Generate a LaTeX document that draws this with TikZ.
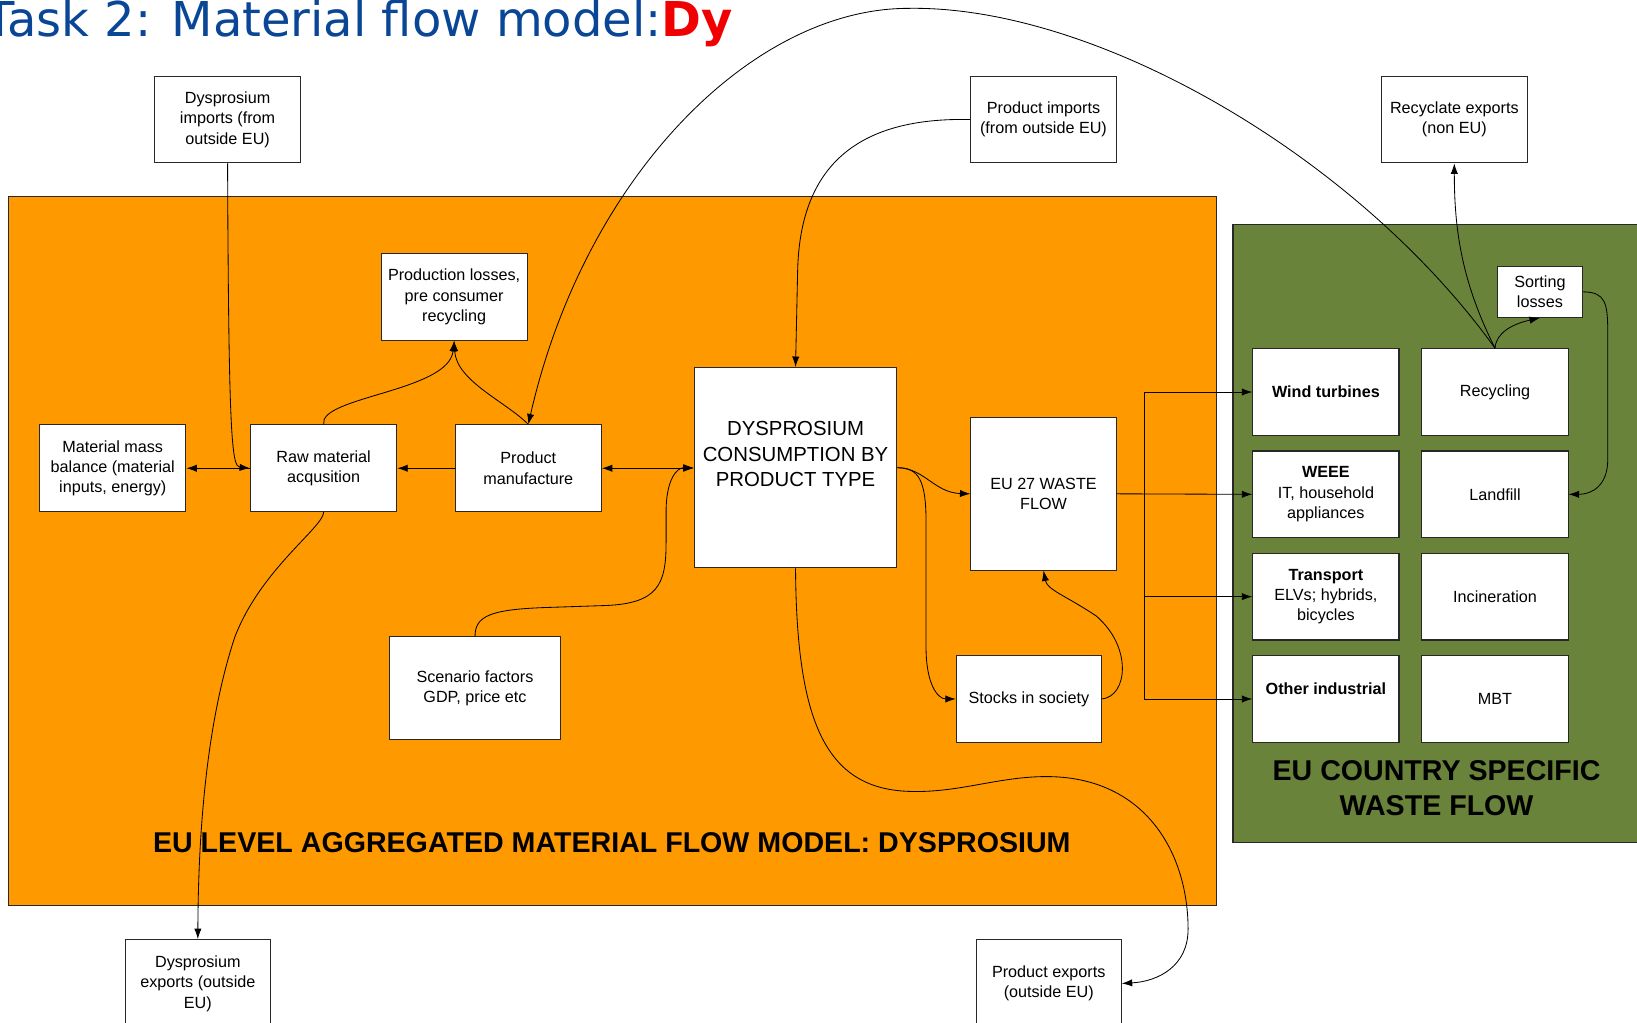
\documentclass[tikz,border=0pt]{standalone}
\usepackage{fontspec}
\setmainfont{Liberation Sans}
\newfontfamily\titlefont{DejaVu Sans}
\usetikzlibrary{arrows.meta}
\definecolor{mforange}{RGB}{255,153,0}
\definecolor{mfgreen}{RGB}{106,131,58}
\definecolor{mfblue}{RGB}{10,70,150}
\definecolor{mfred}{RGB}{240,0,0}
\definecolor{mfedge}{RGB}{40,40,40}
\begin{document}
\begin{tikzpicture}[x=1pt,y=-1pt,
  box/.style={draw=mfedge, fill=white, line width=1pt, align=center, inner sep=0pt,
    minimum width=140pt, minimum height=83pt, font=\fontsize{15.5}{19.5}\selectfont},
  arr/.style={-{Latex[length=10pt,width=7pt]}, line width=0.8pt},
  dblarr/.style={{Latex[length=10pt,width=7pt]}-{Latex[length=10pt,width=7pt]}, line width=0.8pt},
  link/.style={line width=0.8pt},
  region/.style={draw=mfedge, line width=1pt},
  bigtitle/.style={font=\fontsize{27.4}{33}\selectfont\bfseries, align=center, inner sep=0pt}]
\useasboundingbox (0,0) rectangle (1568,979);

% background regions
\draw[region, fill=mforange] (8,188) rectangle (1165,867);
\draw[region, fill=mfgreen] (1181,215) rectangle (1600,807);

% title
\node[anchor=base west, inner sep=0pt, font=\titlefont\fontsize{46}{50}\selectfont, text=mfblue] (title) at (-14,35)
  {Task 2: Material flow model:{\bfseries\color{mfred}Dy}};

% region labels
\node[bigtitle] (eulevel) at (586,807.5) {EU LEVEL AGGREGATED MATERIAL FLOW MODEL: DYSPROSIUM};
\node[bigtitle] (eucountry) at (1376,755) {EU COUNTRY SPECIFIC\\WASTE FLOW};

% boxes
\node[box] (dimp) at (218,114.5) {Dysprosium\\imports (from\\outside EU)};
\node[box, minimum width=139pt] (pimp) at (999.5,114.5) {Product imports\\(from outside EU)};
\node[box] (rexp) at (1393,114.5) {Recyclate exports\\(non EU)};
\node[box] (loss) at (435,284.5) {Production losses,\\pre consumer\\recycling};
\node[box] (mass) at (108,448.5) {Material mass\\balance (material\\inputs, energy)};
\node[box] (raw) at (310,448.5) {Raw material\\acqusition};
\node[box] (manu) at (506,448.5) {Product\\manufacture};
\node[box, minimum width=194pt, minimum height=192pt] (cons) at (762,448) {};
\node[align=center, inner sep=0pt, font=\fontsize{19.5}{24.5}\selectfont] (constext) at (762,435)
  {DYSPROSIUM\\CONSUMPTION BY\\PRODUCT TYPE};
\node[box, minimum width=139pt, minimum height=146pt] (eu27) at (999.5,473) {EU 27 WASTE\\FLOW};
\node[box, minimum width=164pt, minimum height=98pt] (scen) at (455,659) {Scenario factors\\GDP, price etc};
\node[box, minimum width=139pt] (stock) at (985.5,669.5) {Stocks in society};
\node[box, minimum width=82pt, minimum height=49pt] (sort) at (1475,279.5) {Sorting\\losses};
\node[box] (wind) at (1270,375.5) {\bfseries Wind turbines};
\node[box] (recy) at (1432,375.5) {Recycling};
\node[box] (weee) at (1270,473.5) {{\bfseries WEEE}\\IT, household\\appliances};
\node[box] (land) at (1432,473.5) {Landfill};
\node[box] (trans) at (1270,571.5) {{\bfseries Transport}\\ELVs; hybrids,\\bicycles};
\node[box] (inc) at (1432,571.5) {Incineration};
\node[box] (other) at (1270,669.5) {{\bfseries Other industrial}\\~};
\node[box] (mbt) at (1432,669.5) {MBT};
\node[box, minimum width=139pt, minimum height=84pt] (dexp) at (189.5,942) {Dysprosium\\exports (outside\\EU)};
\node[box, minimum width=139pt, minimum height=84pt] (pexp) at (1004.5,942) {Product exports\\(outside EU)};

% connectors
\draw[arr] (dimp.south) .. controls (219,420) and (222,447) .. (raw.west);
\draw[arr] (raw.west) -- (mass.east);
\draw[arr] (manu.west) -- (raw.east);
\draw[dblarr] (manu.east) -- (manu.east -| cons.west);
\draw[arr] (raw.north) .. controls (305,380) and (430,375) .. (loss.south);
\draw[arr] (manu.north) .. controls (485,385) and (437,365) .. (loss.south);
\draw[arr] (recy.north) .. controls (1300,150) and (1050,5) .. (870,8)
  .. controls (720,8) and (560,170) .. (manu.north);
\draw[arr] (recy.north) .. controls (1400,270) and (1393,220) .. (rexp.south);
\draw[arr] (recy.north) .. controls (1433,318) and (1450,310) .. (sort.south);
\draw[arr] (sort.east) .. controls (1538,280) and (1540,290) .. (1540,320) -- (1540,440)
  .. controls (1540,465) and (1525,473.5) .. (land.east);
\draw[arr] (pimp.west) .. controls (820,112) and (766,160) .. (764,260) -- (cons.north);
\draw[arr] (cons.east) .. controls (885,448) and (895,472) .. (eu27.west);
\draw[arr] (cons.east) .. controls (880,448) and (887,460) .. (887,500) -- (887,620)
  .. controls (887,655) and (898,669.5) .. (stock.west);
\draw[arr] (stock.east) .. controls (1080,667) and (1085,620) .. (1050,590)
  .. controls (1020,570) and (1003,565) .. (eu27.south);
\coordinate (bx) at (1096,0);
\draw[link] (bx |- wind.west) -- (bx |- other.west);
\draw[arr] (eu27.east) -- (weee.west);
\draw[arr] (bx |- wind.west) -- (wind.west);
\draw[arr] (bx |- trans.west) -- (trans.west);
\draw[arr] (bx |- other.west) -- (other.west);
\draw[arr] (cons.south) .. controls (763,690) and (790,755) .. (870,758)
  .. controls (920,760) and (960,742) .. (1010,744)
  .. controls (1100,748) and (1138,820) .. (1138,890)
  .. controls (1138,925) and (1110,940) .. (pexp.east);
\draw[arr] (raw.south) .. controls (310,505) and (250,545) .. (225,610)
  .. controls (205,670) and (190,760) .. (dexp.north);
\draw[arr] (scen.north) .. controls (455,590) and (470,584) .. (520,582) -- (580,580)
  .. controls (630,578) and (638,560) .. (638,520) -- (638,490)
  .. controls (638,460) and (648,448) .. (cons.west);
\end{tikzpicture}
\end{document}
